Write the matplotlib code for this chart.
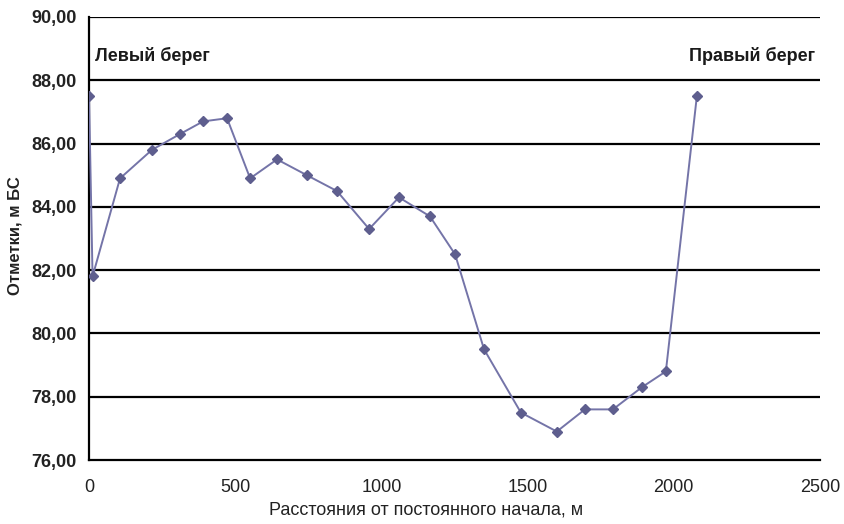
import matplotlib
matplotlib.use('Agg')
import matplotlib.pyplot as plt
from matplotlib.ticker import FixedLocator, FuncFormatter

# Поперечный профиль: расстояние от постоянного начала и отметки дна
distances = [0, 12, 106, 215, 311, 390, 472, 551, 643, 745, 848, 958,
             1060, 1166, 1252, 1351, 1477, 1600, 1696, 1792, 1891, 1973, 2079]
elevations = [87.5, 81.8, 84.9, 85.8, 86.3, 86.7, 86.8, 84.9, 85.5, 85.0, 84.5, 83.3,
              84.3, 83.7, 82.5, 79.5, 77.5, 76.9, 77.6, 77.6, 78.3, 78.8, 87.5]

x_ticks = [0, 500, 1000, 1500, 2000, 2500]
y_ticks = [76, 78, 80, 82, 84, 86, 88, 90]

plt.rcParams['font.family'] = ['Liberation Sans', 'DejaVu Sans']

fig = plt.figure(figsize=(8.44, 5.24), dpi=100)
ax = fig.add_axes([0.1055, 0.1221, 0.866, 0.8455])

ax.plot(distances, elevations, color='#7474A8', linewidth=1.4,
        marker='D', markersize=5.5, markerfacecolor='#5E5E8E',
        markeredgecolor='#5E5E8E', zorder=3)

ax.set_xlim(0, 2500)
ax.set_ylim(76, 90)
ax.xaxis.set_major_locator(FixedLocator(x_ticks))
ax.yaxis.set_major_locator(FixedLocator(y_ticks))
ax.yaxis.set_major_formatter(FuncFormatter(lambda v, p: f'{v:.2f}'.replace('.', ',')))

# горизонтальные линии сетки
for y in y_ticks[1:]:
    ax.axhline(y, color='black', linewidth=1.6, zorder=1)

for side in ['top', 'right']:
    ax.spines[side].set_visible(False)
ax.spines['left'].set_linewidth(1.6)
ax.spines['bottom'].set_linewidth(1.6)

ax.tick_params(axis='both', length=0)
ax.tick_params(axis='y', pad=9)
ax.tick_params(axis='x', pad=14)
for lab in ax.get_yticklabels():
    lab.set_fontsize(13)
    lab.set_fontweight('bold')
    lab.set_color('#222222')
for lab in ax.get_xticklabels():
    lab.set_fontsize(13)
    lab.set_color('#222222')

ax.text(0.008, 0.912, 'Левый берег', transform=ax.transAxes, fontsize=13,
        fontweight='bold', color='#1a1a1a', ha='left', va='center')
ax.text(0.993, 0.912, 'Правый берег', transform=ax.transAxes, fontsize=13,
        fontweight='bold', color='#1a1a1a', ha='right', va='center')

fig.text(0.505, 0.027, 'Расстояния от постоянного начала, м', fontsize=13,
         ha='center', va='center', color='#222222')
fig.text(0.018, 0.55, 'Отметки, м БС', fontsize=12, fontweight='bold',
         rotation=90, ha='center', va='center', color='#222222')

fig.savefig('out.png', dpi=100)
